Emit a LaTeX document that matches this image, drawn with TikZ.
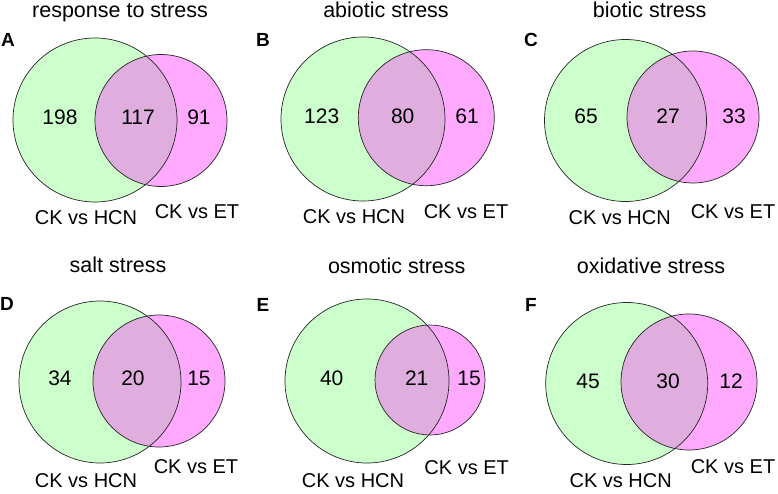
\documentclass[tikz,border=0pt]{standalone}
\usepackage{fontspec}
\setmainfont{Liberation Sans}
\definecolor{vgreen}{HTML}{CCFFCC}
\definecolor{vpink}{HTML}{FFAAFF}
\definecolor{vover}{HTML}{DFAEDF}
\newcommand\vennpair[7]{%
  \fill[vgreen] (#1,#2) circle[radius=#3pt];
  \fill[vpink] (#4,#5) circle[radius=#6pt];
  \begin{scope}
    \clip (#1,#2) circle[radius=#3pt];
    \fill[vover] (#4,#5) circle[radius=#6pt];
  \end{scope}
  \draw[vline] (#1,#2) circle[radius=#3pt] coordinate (#7g);
  \draw[vline] (#4,#5) circle[radius=#6pt] coordinate (#7p);
}
\begin{document}
\begin{tikzpicture}[x=1pt,y=-1pt,
  vline/.style={draw=black!85,line width=0.7pt},
  txt/.style={inner sep=0pt,text height=0.716em,text depth=0pt},
  ttl/.style={txt,font=\fontsize{21.5}{26}\selectfont},
  num/.style={txt,font=\fontsize{21}{25}\selectfont},
  lbl/.style={txt,font=\fontsize{20}{24}\selectfont},
  let/.style={txt,font=\fontsize{19}{23}\selectfont\bfseries}]
\useasboundingbox (0,0) rectangle (778,494);
\fill[white] (0,0) rectangle (778,494);
% A
\vennpair{95}{120}{82}{161}{120.5}{66}{a}
\node[ttl] (ta) at (120,13.5) {response to stress};
\node[let] (la) at (8,43) {A};
\node[num] (a1) at (60,121) {198};
\node[num] (a2) at (138,121) {117};
\node[num] (a3) at (199,121) {91};
\node[lbl] (a4) at (86,221) {CK vs HCN};
\node[lbl] (a5) at (197,215) {CK vs ET};
% B
\vennpair{363}{119}{82}{426.3}{117.7}{68}{b}
\node[ttl] (tb) at (386,13.5) {abiotic stress};
\node[let] (lb) at (263,43) {B};
\node[num] (b1) at (321.7,120) {123};
\node[num] (b2) at (402.7,120) {80};
\node[num] (b3) at (467,120) {61};
\node[lbl] (b4) at (354,220) {CK vs HCN};
\node[lbl] (b5) at (466,215) {CK vs ET};
% C
\vennpair{625.5}{120.5}{81}{693}{117}{66}{c}
\node[ttl] (tc) at (649.7,13.5) {biotic stress};
\node[let] (lc) at (531,43) {C};
\node[num] (c1) at (586,120) {65};
\node[num] (c2) at (668,120) {27};
\node[num] (c3) at (734,120) {33};
\node[lbl] (c4) at (619.7,221) {CK vs HCN};
\node[lbl] (c5) at (733,215) {CK vs ET};
% D
\vennpair{100}{382}{81}{159}{381}{66}{d}
\node[ttl] (td) at (118,268.5) {salt stress};
\node[let] (ld) at (7,307) {D};
\node[num] (d1) at (60,382) {34};
\node[num] (d2) at (133,382) {20};
\node[num] (d3) at (199,382) {15};
\node[lbl] (d4) at (86,484) {CK vs HCN};
\node[lbl] (d5) at (196,470) {CK vs ET};
% E
\vennpair{367}{381}{82}{430}{380}{55}{e}
\node[ttl] (te) at (396.7,269.5) {osmotic stress};
\node[let] (le) at (263,308) {E};
\node[num] (e1) at (331.7,382) {40};
\node[num] (e2) at (416.7,382) {21};
\node[num] (e3) at (469,382) {15};
\node[lbl] (e4) at (353,484) {CK vs HCN};
\node[lbl] (e5) at (466.7,470.5) {CK vs ET};
% F
\vennpair{626.7}{383.5}{81}{689}{382}{68}{f}
\node[ttl] (tf) at (651,269.5) {oxidative stress};
\node[let] (lf) at (531,308) {F};
\node[num] (f1) at (588,385) {45};
\node[num] (f2) at (668,385) {30};
\node[num] (f3) at (731,385) {12};
\node[lbl] (f4) at (620.7,484) {CK vs HCN};
\node[lbl] (f5) at (733,470) {CK vs ET};
\end{tikzpicture}
\end{document}
